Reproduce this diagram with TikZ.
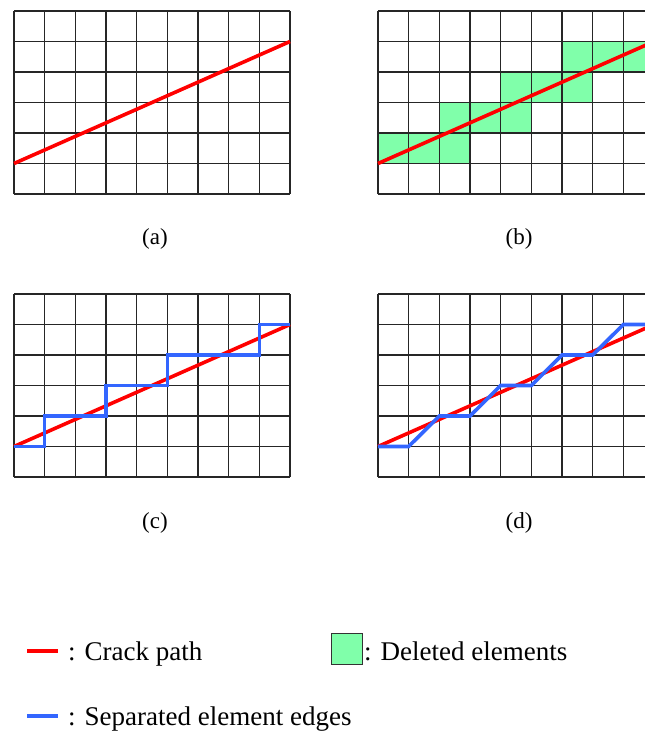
\documentclass[tikz,border=0pt]{standalone}
\usepackage{fontspec}
\setmainfont{Liberation Serif}
\newfontfamily\figserif{Liberation Serif}
\definecolor{crackred}{RGB}{255,0,0}
\definecolor{sepblue}{RGB}{51,102,255}
\definecolor{delgreen}{RGB}{128,255,170}
\tikzset{
  gridline/.style={draw=black!85, line width=1.1pt},
  crack/.style={draw=crackred, line width=3.6pt},
  sepedge/.style={draw=sepblue, line width=3.6pt, line join=miter},
  deleted/.style={fill=delgreen},
  caption/.style={font=\figserif\fontsize{23}{27}\selectfont, inner sep=0pt},
  legendtext/.style={font=\figserif\fontsize{27}{32}\selectfont, inner sep=0pt, anchor=base west},
  panel/.style={x=30.667pt, y=30.5pt}
}
\newcommand{\meshgrid}{%
  \foreach \i in {0,...,9} {\draw[gridline] (\i,0) -- (\i,6);}
  \foreach \j in {0,...,6} {\draw[gridline] (0,\j) -- (9,\j);}
}
\begin{document}
\begin{tikzpicture}
\clip (0pt,0pt) rectangle (645pt,-731pt);
\fill[white] (0pt,0pt) rectangle (645pt,-731pt);

% (a)
\begin{scope}[shift={(14pt,-194pt)}, panel]
  \meshgrid
  \draw[crack] (0,1) -- (9,5);
\end{scope}

% (b)
\begin{scope}[shift={(378pt,-194pt)}, panel]
  \foreach \c/\r in {0/1,1/1,2/1,2/2,3/2,4/2,4/3,5/3,6/3,6/4,7/4,8/4}
    {\fill[deleted] (\c,\r) rectangle ++(1,1);}
  \meshgrid
  \draw[crack] (0,1) -- (9,5);
\end{scope}

% (c)
\begin{scope}[shift={(14pt,-477pt)}, panel]
  \meshgrid
  \draw[crack] (0,1) -- (9,5);
  \draw[sepedge] (0,1) -- (1,1) -- (1,2) -- (3,2) -- (3,3) -- (5,3) -- (5,4) -- (8,4) -- (8,5) -- (9,5);
\end{scope}

% (d)
\begin{scope}[shift={(378pt,-477pt)}, panel]
  \meshgrid
  \draw[crack] (0,1) -- (9,5);
  \draw[sepedge] (0,1) -- (1,1) -- (2,2) -- (3,2) -- (4,3) -- (5,3) -- (6,4) -- (7,4) -- (8,5) -- (9,5);
\end{scope}

% captions
\node[caption] (capa) at (155pt,-239pt) {(a)};
\node[caption] (capb) at (519pt,-239pt) {(b)};
\node[caption] (capc) at (155pt,-523pt) {(c)};
\node[caption] (capd) at (519pt,-523pt) {(d)};

% legend
\draw[crack, line width=3.2pt] (27pt,-651pt) -- (58pt,-651pt);
\node[legendtext] (lcrack) at (68pt,-660pt) {: Crack path};
\draw[deleted, draw=black!80, line width=1pt] (331pt,-633pt) rectangle (362pt,-664pt);
\node[legendtext] (ldel) at (364pt,-660pt) {: Deleted elements};
\draw[sepedge, line width=3.2pt] (27pt,-716pt) -- (58pt,-716pt);
\node[legendtext] (lsep) at (68pt,-725pt) {: Separated element edges};
\end{tikzpicture}
\end{document}
